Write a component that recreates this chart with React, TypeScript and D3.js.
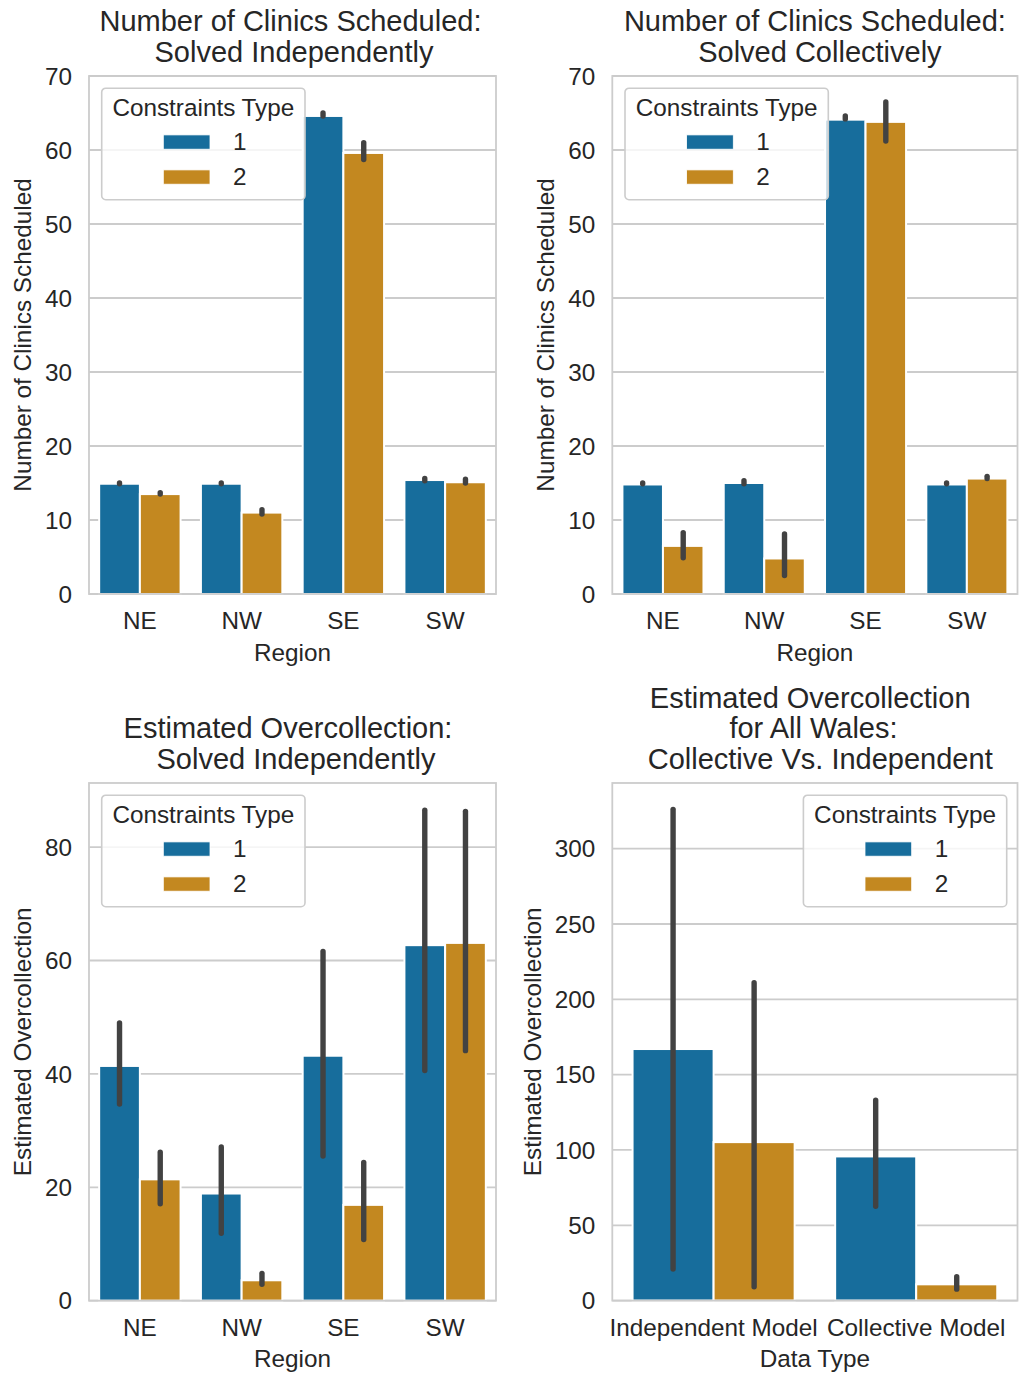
import React, { useEffect } from "react";
import * as d3 from "d3";

// ---- categories ----
const regions = ["NE", "NW", "SE", "SW"];
const dataTypes = ["Independent Model", "Collective Model"];
const constraintTypes = ["1", "2"];

// ---- Number of clinics scheduled, solved independently ----
const clinicsIndepType1 = [14.9, 14.9, 64.6, 15.4];
const clinicsIndepType2 = [13.5, 11.0, 59.6, 15.1];
const clinicsIndepCI1: [number, number][] = [[14.9, 15.0], [14.9, 15.0], [64.6, 65.0], [15.3, 15.6]];
const clinicsIndepCI2: [number, number][] = [[13.5, 13.7], [10.8, 11.4], [58.7, 61.0], [15.0, 15.5]];

// ---- Number of clinics scheduled, solved collectively ----
const clinicsCollType1 = [14.8, 15.0, 64.1, 14.8];
const clinicsCollType2 = [6.5, 4.8, 63.8, 15.6];
const clinicsCollCI1: [number, number][] = [[14.9, 15.0], [14.9, 15.3], [64.2, 64.6], [14.9, 15.0]];
const clinicsCollCI2: [number, number][] = [[4.9, 8.3], [2.5, 8.1], [61.2, 66.5], [15.6, 15.9]];

// ---- Estimated overcollection by region, solved independently ----
const overIndepType1 = [41.4, 18.9, 43.2, 62.7];
const overIndepType2 = [21.4, 3.6, 16.9, 63.1];
const overIndepCI1: [number, number][] = [[34.7, 49.0], [11.9, 27.1], [25.5, 61.6], [40.6, 86.5]];
const overIndepCI2: [number, number][] = [[17.1, 26.2], [2.9, 4.8], [10.8, 24.4], [44.1, 86.3]];

// ---- Estimated overcollection for all Wales ----
const overWalesType1 = [167.0, 95.7];
const overWalesType2 = [105.2, 10.8];
const overWalesCI1: [number, number][] = [[20.9, 326.1], [62.6, 133.1]];
const overWalesCI2: [number, number][] = [[9.2, 211.0], [7.6, 15.8]];

// ---- tick values ----
const clinicTicks = [0, 10, 20, 30, 40, 50, 60, 70];
const overRegionTicks = [0, 20, 40, 60, 80];
const overWalesTicks = [0, 50, 100, 150, 200, 250, 300];

const COLORS = ["#176d9c", "#c38820"];
const TEXT = "#262626";
const GRID = "#cccccc";
const ERR = "#424242";
const FONT = "'Liberation Sans', Arial, Helvetica, sans-serif";

type PanelSpec = {
  title: string[];
  titleDx: number[];
  xLabel: string;
  yLabel: string;
  cats: string[];
  values: number[][];
  cis: [number, number][][];
  ymax: number;
  ticks: number[];
  legendSide: "left" | "right";
  box: { left: number; right: number; top: number; bottom: number };
};

const panels: PanelSpec[] = [
  {
    title: ["Number of Clinics Scheduled:", "Solved Independently"],
    titleDx: [-2, 1.5],
    xLabel: "Region",
    yLabel: "Number of Clinics Scheduled",
    cats: regions,
    values: [clinicsIndepType1, clinicsIndepType2],
    cis: [clinicsIndepCI1, clinicsIndepCI2],
    ymax: 70,
    ticks: clinicTicks,
    legendSide: "left",
    box: { left: 89, right: 496, top: 76, bottom: 594 },
  },
  {
    title: ["Number of Clinics Scheduled:", "Solved Collectively"],
    titleDx: [0, 5],
    xLabel: "Region",
    yLabel: "Number of Clinics Scheduled",
    cats: regions,
    values: [clinicsCollType1, clinicsCollType2],
    cis: [clinicsCollCI1, clinicsCollCI2],
    ymax: 70,
    ticks: clinicTicks,
    legendSide: "left",
    box: { left: 612.3, right: 1017.5, top: 76, bottom: 594 },
  },
  {
    title: ["Estimated Overcollection:", "Solved Independently"],
    titleDx: [-4.5, 3.5],
    xLabel: "Region",
    yLabel: "Estimated Overcollection",
    cats: regions,
    values: [overIndepType1, overIndepType2],
    cis: [overIndepCI1, overIndepCI2],
    ymax: 91.3,
    ticks: overRegionTicks,
    legendSide: "left",
    box: { left: 89, right: 496, top: 783, bottom: 1300.7 },
  },
  {
    title: ["Estimated Overcollection", "for All Wales:", "Collective Vs. Independent"],
    titleDx: [-4.7, -1.4, 5.3],
    xLabel: "Data Type",
    yLabel: "Estimated Overcollection",
    cats: dataTypes,
    values: [overWalesType1, overWalesType2],
    cis: [overWalesCI1, overWalesCI2],
    ymax: 343.6,
    ticks: overWalesTicks,
    legendSide: "right",
    box: { left: 612.3, right: 1017.5, top: 783, bottom: 1300.6 },
  },
];

const FS = 24.3;
const TITLE_FS = 29;

function Legend({ x, y }: { x: number; y: number }) {
  const w = 203.3;
  const h = 111.5;
  return (
    <g transform={`translate(${x},${y})`}>
      <rect x={0} y={0} width={w} height={h} rx={4} ry={4}
        fill="#ffffff" fillOpacity={0.8} stroke={GRID} strokeWidth={1.6} />
      <text x={w / 2} y={27.7} textAnchor="middle" fontSize={FS} fill={TEXT}>
        Constraints Type
      </text>
      {constraintTypes.map((c, i) => (
        <g key={c} transform={`translate(0,${i * 35})`}>
          <rect x={61.6} y={46.7} width={46.7} height={14.3} fill={COLORS[i]}
            stroke="#ffffff" strokeWidth={0.8} />
          <text x={131.3} y={61.7} fontSize={FS} fill={TEXT}>{c}</text>
        </g>
      ))}
    </g>
  );
}

function Panel({ spec }: { spec: PanelSpec }) {
  const { box } = spec;
  const x = d3.scaleBand<string>().domain(spec.cats).range([box.left, box.right]).padding(0);
  const step = x.step();
  const hue = d3.scaleBand<string>().domain(constraintTypes).range([0, step * 0.8]).padding(0);
  const y = d3.scaleLinear().domain([0, spec.ymax]).range([box.bottom, box.top]);
  const cx = (box.left + box.right) / 2;
  const cy = (box.top + box.bottom) / 2;
  const tickFmt = d3.format("d");
  const maxTickW = d3.max(spec.ticks, (t) => tickFmt(t).length * 0.556 * FS) || 0;
  const yLabelX = box.left - 17 - maxTickW - 14;
  const legendX = spec.legendSide === "left" ? box.left + 12.7 : box.right - 10.8 - 203.3;
  const legendY = box.top + 12.2;
  const nLines = spec.title.length;
  const lastBaseline = box.top - 14.3;

  return (
    <g>
      {/* horizontal grid */}
      {spec.ticks.map((t) => (
        <line key={t} x1={box.left} x2={box.right} y1={y(t)} y2={y(t)}
          stroke={GRID} strokeWidth={1.8} />
      ))}
      {/* bars */}
      {spec.values.map((series, si) =>
        series.map((v, ci) => {
          const x0 = (x(spec.cats[ci]) as number) + step * 0.1 + (hue(constraintTypes[si]) as number);
          return (
            <rect key={`${si}-${ci}`} x={x0} y={y(v)} width={hue.bandwidth()}
              height={y(0) - y(v)} fill={COLORS[si]} stroke="#ffffff" strokeWidth={2} />
          );
        })
      )}
      {/* confidence intervals */}
      {spec.cis.map((series, si) =>
        series.map(([lo, hi], ci) => {
          const xm = (x(spec.cats[ci]) as number) + step * 0.1 +
            (hue(constraintTypes[si]) as number) + hue.bandwidth() / 2;
          return (
            <line key={`e${si}-${ci}`} x1={xm} x2={xm} y1={y(lo)} y2={y(hi)}
              stroke={ERR} strokeWidth={5.4} strokeLinecap="round" />
          );
        })
      )}
      {/* frame */}
      <rect x={box.left} y={box.top} width={box.right - box.left} height={box.bottom - box.top}
        fill="none" stroke={GRID} strokeWidth={1.8} />
      {/* y tick labels */}
      {spec.ticks.map((t) => (
        <text key={`yt${t}`} x={box.left - 17} y={y(t)} dy="0.36em" textAnchor="end"
          fontSize={FS} fill={TEXT}>{tickFmt(t)}</text>
      ))}
      {/* x tick labels */}
      {spec.cats.map((c) => (
        <text key={`xt${c}`} x={(x(c) as number) + step / 2} y={box.bottom + 35}
          textAnchor="middle" fontSize={FS} fill={TEXT}>{c}</text>
      ))}
      {/* axis labels */}
      <text x={cx} y={box.bottom + 66.5} textAnchor="middle" fontSize={FS} fill={TEXT}>
        {spec.xLabel}
      </text>
      <text transform={`translate(${yLabelX},${cy}) rotate(-90)`} textAnchor="middle"
        fontSize={FS} fill={TEXT}>{spec.yLabel}</text>
      {/* title */}
      {spec.title.map((line, i) => (
        <text key={`t${i}`} x={cx + spec.titleDx[i]} y={lastBaseline - (nLines - 1 - i) * 30.5}
          textAnchor="middle" fontSize={TITLE_FS} fill={TEXT}>{line}</text>
      ))}
      <Legend x={legendX} y={legendY} />
    </g>
  );
}

export default function App() {
  useEffect(() => {
    document.body.style.margin = "0";
  }, []);
  return (
    <svg width={1019} height={1374} viewBox="0 0 1019 1374"
      style={{ display: "block", background: "#ffffff", fontFamily: FONT }}>
      <rect x={0} y={0} width={1019} height={1374} fill="#ffffff" />
      {panels.map((p, i) => (
        <Panel key={i} spec={p} />
      ))}
    </svg>
  );
}
